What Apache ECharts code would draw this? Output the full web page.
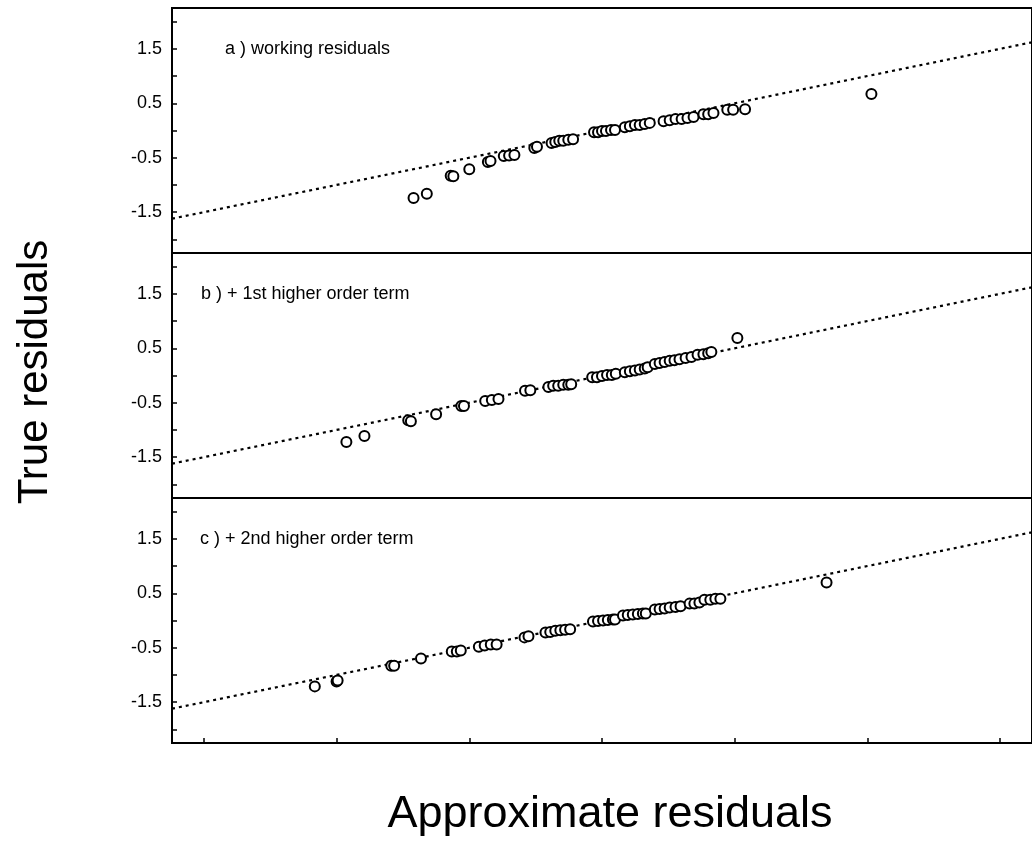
<!DOCTYPE html>
<html>
<head>
<meta charset="utf-8">
<script src="https://cdn.jsdelivr.net/npm/echarts@6/dist/echarts.min.js"></script>
<style>
  html, body { margin: 0; padding: 0; background: #fff; }
  #chart { width: 1032px; height: 863px; }
</style>
</head>
<body>
<div id="chart"></div>
<script>
// panel a) working residuals
const aX = [-0.71, -0.66, -0.57, -0.56, -0.50, -0.43, -0.42, -0.37, -0.35, -0.33, -0.255, -0.245,
  -0.19, -0.176, -0.161, -0.146, -0.127, -0.109, -0.03, -0.015, 0, 0.015, 0.034, 0.049,
  0.086, 0.105, 0.124, 0.142, 0.161, 0.18, 0.232, 0.255, 0.277, 0.30, 0.322, 0.345,
  0.382, 0.40, 0.42, 0.472, 0.494, 0.539, 1.015]
const aY = [-1.24, -1.16, -0.83, -0.84, -0.71, -0.58, -0.56, -0.47, -0.46, -0.45, -0.32, -0.30,
  -0.23, -0.21, -0.19, -0.19, -0.17, -0.16, -0.03, -0.03, -0.01, -0.01, 0.01, 0.01,
  0.06, 0.08, 0.10, 0.10, 0.12, 0.14, 0.17, 0.19, 0.21, 0.21, 0.23, 0.25,
  0.30, 0.30, 0.32, 0.38, 0.38, 0.39, 0.67]

// panel b) + 1st higher order term
const bX = [-0.963, -0.895, -0.73, -0.72, -0.625, -0.53, -0.52, -0.44, -0.415, -0.39, -0.29, -0.27,
  -0.202, -0.184, -0.165, -0.146, -0.127, -0.116, -0.037, -0.019, 0, 0.019, 0.037, 0.052,
  0.086, 0.105, 0.124, 0.142, 0.161, 0.172, 0.199, 0.217, 0.236, 0.255, 0.273, 0.292,
  0.315, 0.337, 0.36, 0.382, 0.40, 0.412, 0.51]
const bY = [-1.22, -1.11, -0.82, -0.84, -0.71, -0.56, -0.56, -0.47, -0.45, -0.43, -0.28, -0.27,
  -0.21, -0.19, -0.19, -0.17, -0.17, -0.16, -0.03, -0.03, -0.01, 0.01, 0.01, 0.03,
  0.06, 0.08, 0.09, 0.11, 0.13, 0.15, 0.21, 0.23, 0.25, 0.27, 0.28, 0.30,
  0.32, 0.34, 0.38, 0.39, 0.41, 0.43, 0.69]

// panel c) + 2nd higher order term
const cX = [-1.082, -1.0, -0.996, -0.794, -0.783, -0.682, -0.566, -0.547, -0.532, -0.464, -0.442, -0.419, -0.397,
  -0.292, -0.277, -0.213, -0.195, -0.176, -0.157, -0.139, -0.12, -0.034, -0.015, 0.004, 0.022, 0.041, 0.049,
  0.079, 0.097, 0.116, 0.135, 0.154, 0.165, 0.199, 0.217, 0.236, 0.255, 0.277, 0.296,
  0.33, 0.348, 0.367, 0.386, 0.408, 0.427, 0.446, 0.846]
const cY = [-1.21, -1.12, -1.10, -0.83, -0.83, -0.70, -0.57, -0.57, -0.55, -0.48, -0.46, -0.44, -0.44,
  -0.31, -0.29, -0.22, -0.21, -0.19, -0.18, -0.17, -0.16, -0.02, -0.01, 0, 0.01, 0.02, 0.02,
  0.09, 0.10, 0.11, 0.12, 0.13, 0.13, 0.20, 0.21, 0.22, 0.24, 0.25, 0.26,
  0.31, 0.31, 0.33, 0.38, 0.38, 0.40, 0.40, 0.70]

const panelLabels = ['a ) working residuals', 'b ) + 1st higher order term', 'c ) + 2nd higher order term']
const yTicks = [-2, -1.5, -1, -0.5, 0, 0.5, 1, 1.5, 2]
const yTickLabels = [-1.5, -0.5, 0.5, 1.5]
const xTicks = [-1.5, -1, -0.5, 0, 0.5, 1, 1.5]
const refLine = [[-1.62, -1.62], [1.62, 1.62]]

const font = 'Liberation Sans, Arial, sans-serif'
const tops = [8, 253, 498]
const labelLeft = [225, 201, 200]
const panels = [[aX, aY], [bX, bY], [cX, cY]]

const chart = echarts.init(document.getElementById('chart'))

chart.setOption({
  animation: false,
  backgroundColor: '#fff',
  grid: tops.map(t => ({
    left: 172, top: t, width: 864, height: 245,
    show: true, borderColor: '#000', borderWidth: 2, backgroundColor: 'transparent'
  })),
  xAxis: tops.map((t, i) => ({
    type: 'value', gridIndex: i, min: -1.62, max: 1.62, position: 'bottom',
    axisLine: { show: false, onZero: false },
    splitLine: { show: false },
    axisLabel: { show: false },
    axisTick: {
      show: i === 2, inside: true, length: 5,
      customValues: xTicks,
      lineStyle: { color: '#000', width: 1.5 }
    }
  })),
  yAxis: tops.map((t, i) => ({
    type: 'value', gridIndex: i, min: -2.25, max: 2.25, position: 'left',
    axisLine: { show: false, onZero: false },
    splitLine: { show: false },
    axisTick: {
      show: true, inside: true, length: 5,
      customValues: yTicks,
      lineStyle: { color: '#000', width: 1.5 }
    },
    axisLabel: {
      customValues: yTickLabels,
      margin: 10,
      color: '#000', fontSize: 18, fontFamily: font,
      formatter: v => v.toFixed(1)
    }
  })),
  series: panels.flatMap(([xs, ys], i) => [
    {
      type: 'line', xAxisIndex: i, yAxisIndex: i,
      data: refLine, showSymbol: false, silent: true, z: 1,
      lineStyle: { color: '#000', width: 2.2, type: [3, 4] }
    },
    {
      type: 'scatter', xAxisIndex: i, yAxisIndex: i, z: 2,
      data: xs.map((x, k) => [x, ys[k]]),
      symbol: 'emptyCircle', symbolSize: 10,
      itemStyle: { color: '#000', borderColor: '#000', borderWidth: 2.8, opacity: 1 }
    }
  ]),
  graphic: [
    ...panelLabels.map((txt, i) => ({
      type: 'text', left: labelLeft[i], top: tops[i] + 32,
      style: { text: txt, font: '18px ' + font, fill: '#000' }
    })),
    {
      type: 'text', x: 35, y: 372, rotation: Math.PI / 2,
      style: { text: 'True residuals', font: '42px ' + font, fill: '#000', align: 'center', verticalAlign: 'middle' }
    },
    {
      type: 'text', x: 610, y: 815,
      style: { text: 'Approximate residuals', font: '45px ' + font, fill: '#000', align: 'center', verticalAlign: 'middle' }
    }
  ]
})
</script>
</body>
</html>
